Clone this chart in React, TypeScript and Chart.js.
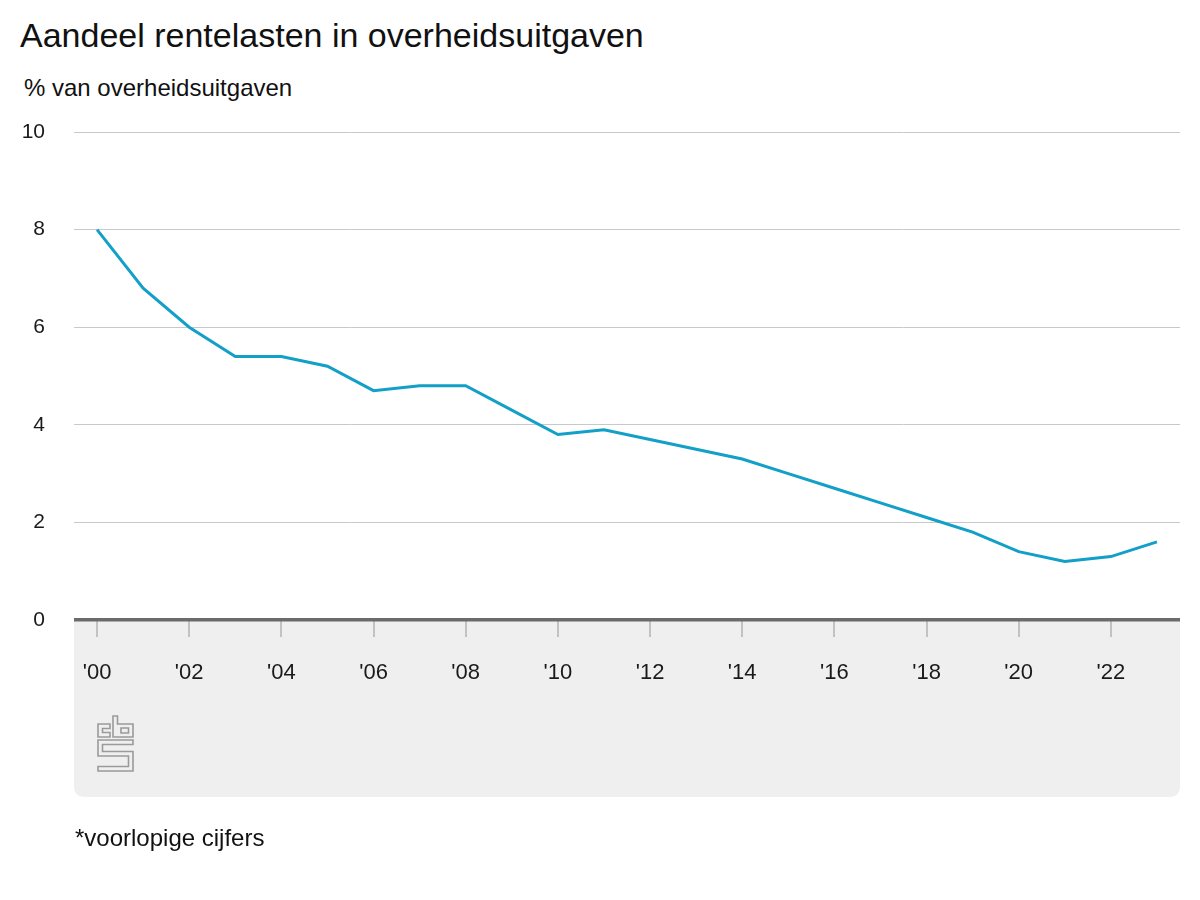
import React, { useEffect, useRef } from "react";
import { Chart, registerables } from "chart.js";

Chart.register(...registerables);

const years = [
  "2000", "2001", "2002", "2003", "2004", "2005", "2006", "2007", "2008", "2009", "2010", "2011",
  "2012", "2013", "2014", "2015", "2016", "2017", "2018", "2019", "2020", "2021", "2022", "2023",
];
const tickLabels = [
  "'00", "'01", "'02", "'03", "'04", "'05", "'06", "'07", "'08", "'09", "'10", "'11",
  "'12", "'13", "'14", "'15", "'16", "'17", "'18", "'19", "'20", "'21", "'22", "'23",
];
const interestShare = [
  8.0, 6.8, 6.0, 5.4, 5.4, 5.2, 4.7, 4.8, 4.8, 4.3, 3.8, 3.9,
  3.7, 3.5, 3.3, 3.0, 2.7, 2.4, 2.1, 1.8, 1.4, 1.2, 1.3, 1.6,
];
const yMin = 0;
const yMax = 10;
const yStep = 2;

const FONT = "Arial, 'Liberation Sans', sans-serif";

const boxPlugin = {
  id: "cbsBox",
  beforeDraw(chart: any) {
    const { ctx, chartArea } = chart;
    const left = chartArea.left;
    const right = chartArea.right;
    const top = chartArea.bottom;
    const bottom = 797;
    const r = 11;
    ctx.save();
    ctx.fillStyle = "#efefef";
    ctx.beginPath();
    ctx.moveTo(left, top);
    ctx.lineTo(right, top);
    ctx.lineTo(right, bottom - r);
    ctx.quadraticCurveTo(right, bottom, right - r, bottom);
    ctx.lineTo(left + r, bottom);
    ctx.quadraticCurveTo(left, bottom, left, bottom - r);
    ctx.closePath();
    ctx.fill();

    // CBS logo
    ctx.strokeStyle = "#9a9a9a";
    ctx.lineWidth = 1.6;
    ctx.lineJoin = "miter";
    const poly = (pts: number[][]) => {
      ctx.beginPath();
      ctx.moveTo(pts[0][0], pts[0][1]);
      for (let i = 1; i < pts.length; i++) ctx.lineTo(pts[i][0], pts[i][1]);
      ctx.closePath();
      ctx.stroke();
    };
    // c
    poly([[98, 724], [110, 724], [110, 728.5], [102.5, 728.5], [102.5, 732.5], [110, 732.5], [110, 737], [98, 737]]);
    // b
    poly([[113, 716], [117.5, 716], [117.5, 724], [133, 724], [133, 737], [113, 737]]);
    poly([[121, 728], [128.5, 728], [128.5, 733], [121, 733]]);
    // s
    poly([
      [98, 740], [133, 740], [133, 744.5], [102.5, 744.5], [102.5, 751.5], [133, 751.5],
      [133, 771], [98, 771], [98, 766.5], [128.5, 766.5], [128.5, 756], [98, 756],
    ]);
    ctx.restore();
  },
};

export default function App() {
  const ref = useRef<HTMLCanvasElement>(null);

  useEffect(() => {
    if (!ref.current) return;
    const chart = new Chart(ref.current, {
      type: "line",
      data: {
        labels: years,
        datasets: [
          {
            data: interestShare,
            borderColor: "#129fc8",
            borderWidth: 3,
            pointRadius: 0,
            tension: 0,
            fill: false,
          },
        ],
      },
      options: {
        responsive: false,
        animation: false,
        layout: { padding: { left: 0, top: 132, right: 20, bottom: 200 } },
        plugins: {
          legend: { display: false },
          tooltip: { enabled: false },
          title: { display: false },
        },
        scales: {
          x: {
            type: "category",
            offset: true,
            border: { display: false },
            grid: {
              drawOnChartArea: false,
              drawTicks: true,
              tickLength: 17,
              color: "#c2c2c2",
              lineWidth: 2,
            },
            ticks: {
              autoSkip: false,
              maxRotation: 0,
              minRotation: 0,
              padding: 23,
              color: "#1a1a1a",
              font: { family: FONT, size: 22 },
              callback: (_v: any, i: number) => (i % 2 === 0 ? tickLabels[i] : null),
            },
            afterFit: (s: any) => {
              s.height = 80;
            },
          },
          y: {
            min: yMin,
            max: yMax,
            border: { display: false },
            grid: {
              drawTicks: false,
              color: (c: any) => (c.tick && c.tick.value === 0 ? "#6b6b6b" : "#c8c8c8"),
              lineWidth: (c: any) => (c.tick && c.tick.value === 0 ? 3.5 : 1),
            },
            ticks: {
              stepSize: yStep,
              padding: 29,
              color: "#1a1a1a",
              font: { family: FONT, size: 21 },
            },
            afterFit: (s: any) => {
              s.width = 74;
            },
          },
        },
      },
      plugins: [boxPlugin],
    });
    return () => chart.destroy();
  }, []);

  return (
    <div
      style={{
        position: "fixed",
        left: 0,
        top: 0,
        width: 1200,
        height: 900,
        background: "#fff",
        fontFamily: FONT,
        color: "#111",
      }}
    >
      <div style={{ position: "absolute", left: 20, top: 18, fontSize: 34, lineHeight: "34px", whiteSpace: "nowrap" }}>
        Aandeel rentelasten in overheidsuitgaven
      </div>
      <div style={{ position: "absolute", left: 24, top: 76, fontSize: 24, lineHeight: "24px", whiteSpace: "nowrap" }}>
        % van overheidsuitgaven
      </div>
      <canvas ref={ref} width={1200} height={900} style={{ position: "absolute", left: 0, top: 0 }} />
      <div style={{ position: "absolute", left: 75, top: 826, fontSize: 24, lineHeight: "24px", whiteSpace: "nowrap" }}>
        *voorlopige cijfers
      </div>
    </div>
  );
}
